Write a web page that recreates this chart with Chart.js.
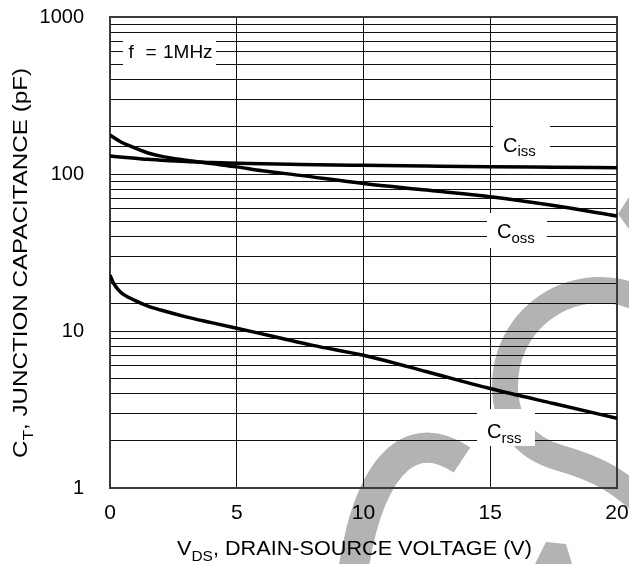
<!DOCTYPE html>
<html><head><meta charset="utf-8">
<script src="https://cdn.jsdelivr.net/npm/chart.js@4/dist/chart.umd.min.js"></script>
<style>html,body{margin:0;padding:0;background:#fff;}#wrap{width:629px;height:564px;position:relative;}canvas{display:block;}</style>
</head><body><div id="wrap"><canvas id="c" width="629" height="564"></canvas></div>
<script>
// ---- data ----
const vCiss = [0, 0.5, 1, 1.5, 2, 3, 4, 5, 7.5, 10, 12.5, 15, 17.5, 20];
const ciss  = [130, 128, 126, 124, 122.5, 120, 118.5, 117, 115, 113.6, 112.4, 111.3, 110.5, 109.7];
const vCoss = [0, 0.4, 1, 1.5, 2, 3, 4, 5, 6, 7.5, 10, 12.5, 15, 17.5, 20];
const coss  = [177, 161, 146, 136, 130, 122.5, 116.5, 111, 105, 98, 87, 79, 71.7, 63, 54];
const vCrss = [0, 0.15, 0.4, 1, 1.5, 2, 3, 4, 5, 6.5, 8, 10, 12.5, 15, 17.5, 20];
const crss  = [22.7, 20, 17.8, 15.6, 14.4, 13.6, 12.3, 11.3, 10.4, 9.2, 8.1, 7.0, 5.5, 4.3, 3.45, 2.78];
const xTicks = [0, 5, 10, 15, 20];
const yLabelled = [1, 10, 100, 1000];
const FONT = '"Liberation Sans", Arial, Helvetica, sans-serif';

function pts(xs, ys) { return xs.map((x, i) => ({x: x, y: ys[i]})); }

function drawParts(c, parts, x, y, rotate, target) {
  c.save();
  let w = 0;
  for (const p of parts) { c.font = p.size + 'px ' + FONT; w += c.measureText(p.t).width; }
  const k = target ? target / w : 1;
  c.translate(x, y);
  if (rotate) c.rotate(-Math.PI / 2);
  c.scale(k, 1);
  c.fillStyle = '#000';
  c.textBaseline = 'alphabetic';
  c.textAlign = 'left';
  let cx = 0;
  for (const p of parts) {
    c.font = p.size + 'px ' + FONT;
    c.fillText(p.t, cx, p.dy || 0);
    cx += c.measureText(p.t).width;
  }
  c.restore();
}

const watermark = {
  id: 'watermark',
  beforeDraw(chart) {
    const c = chart.ctx;
    c.save();
    c.strokeStyle = '#b3b3b3';
    c.fillStyle = '#b3b3b3';
    c.lineCap = 'butt';
    c.lineWidth = 26;
    c.beginPath();
    c.arc(600, 385, 95, -0.22 * Math.PI, Math.PI, true);
    c.bezierCurveTo(505, 425, 525, 448, 560, 458);
    c.bezierCurveTo(595, 468, 620, 478, 665, 525);
    c.stroke();
    c.lineWidth = 30;
    c.beginPath();
    c.moveTo(350, 600);
    c.bezierCurveTo(358, 500, 395, 415, 462, 460);
    c.stroke();
    c.beginPath();
    c.moveTo(618, 214); c.lineTo(629, 197); c.lineTo(629, 229); c.closePath();
    c.fill();
    c.beginPath();
    c.moveTo(535, 564); c.lineTo(546, 542); c.lineTo(566, 544); c.lineTo(572, 564); c.closePath();
    c.fill();
    c.restore();
  }
};

const frame = {
  id: 'frame',
  beforeDatasetsDraw(chart) {
    const c = chart.ctx, a = chart.chartArea;
    c.save();
    c.strokeStyle = '#3a3a3a';
    c.lineWidth = 2;
    c.strokeRect(a.left, a.top, a.right - a.left, a.bottom - a.top);
    c.restore();
  },
  afterDatasetsDraw(chart) {
    const c = chart.ctx;
    c.save();
    c.fillStyle = '#fff';
    c.fillRect(123, 37, 93, 31);
    c.fillRect(493, 119, 57, 41);
    c.fillRect(487, 213, 60, 35);
    c.fillRect(477, 409, 58, 37);
    c.restore();
    drawParts(c, [{t: 'f', size: 19}], 128.5, 57.5);
    drawParts(c, [{t: '=', size: 19}], 145.5, 57.5);
    drawParts(c, [{t: '1MHz', size: 19}], 163, 57.5);
    drawParts(c, [{t: 'C', size: 20}, {t: 'iss', size: 15, dy: 4.5}], 503, 151.5);
    drawParts(c, [{t: 'C', size: 20}, {t: 'oss', size: 15, dy: 5}], 497, 238);
    drawParts(c, [{t: 'C', size: 20}, {t: 'rss', size: 15, dy: 5}], 487, 438);
  },
  afterDraw(chart) {
    const c = chart.ctx;
    drawParts(c, [{t: 'V', size: 21}, {t: 'DS', size: 15, dy: 6}, {t: ', DRAIN-SOURCE VOLTAGE (V)', size: 21}], 177, 555, false, 355);
    drawParts(c, [{t: 'C', size: 21}, {t: 'T', size: 15, dy: 6}, {t: ', JUNCTION CAPACITANCE (pF)', size: 21}], 27, 458, true, 390);
  }
};

const line = {borderColor: '#000', borderWidth: 3.5, pointRadius: 0, fill: false, cubicInterpolationMode: 'monotone'};

new Chart(document.getElementById('c'), {
  type: 'line',
  data: {
    datasets: [
      Object.assign({label: 'Ciss', data: pts(vCiss, ciss)}, line),
      Object.assign({label: 'Coss', data: pts(vCoss, coss)}, line),
      Object.assign({label: 'Crss', data: pts(vCrss, crss)}, line)
    ]
  },
  options: {
    responsive: false, animation: false, devicePixelRatio: 1,
    layout: {padding: {left: 0, top: 17, right: 12, bottom: 0}},
    plugins: {legend: {display: false}, tooltip: {enabled: false}, title: {display: false}},
    scales: {
      x: {
        type: 'linear', min: 0, max: 20,
        afterBuildTicks: s => { s.ticks = xTicks.map(v => ({value: v})); },
        ticks: {color: '#000', font: {family: FONT, size: 21}, padding: 0, maxRotation: 0, autoSkip: false},
        grid: {color: '#111', lineWidth: 1, drawTicks: true, tickLength: 13, tickColor: 'rgba(0,0,0,0)'},
        border: {display: false},
        afterFit: s => { s.height = 76; }
      },
      y: {
        type: 'logarithmic', min: 1, max: 1000,
        ticks: {
          color: '#000', font: {family: FONT, size: 20}, padding: 0, autoSkip: false,
          callback: v => yLabelled.some(d => Math.abs(d - v) < 1e-6) ? String(v) : ''
        },
        grid: {color: '#111', lineWidth: 1, drawTicks: true, tickLength: 26, tickColor: 'rgba(0,0,0,0)'},
        border: {display: false},
        afterFit: s => { s.width = 110; }
      }
    }
  },
  plugins: [watermark, frame]
});
</script>
</body></html>
